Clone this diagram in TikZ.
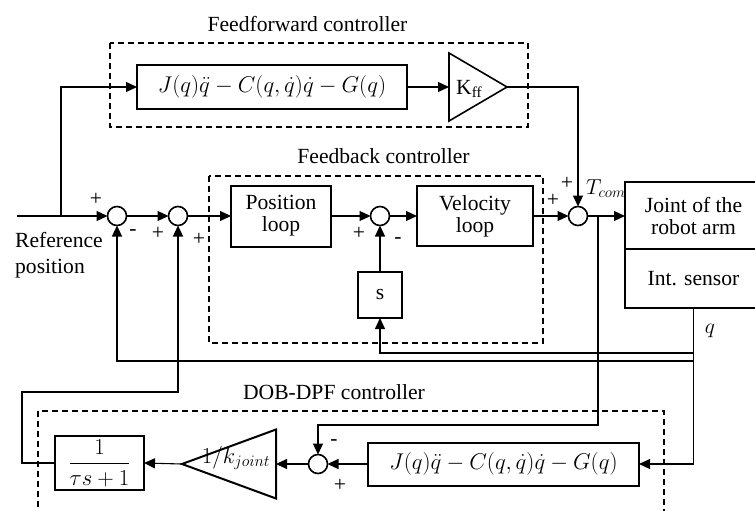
\RequirePackage{fix-cm}
\documentclass[tikz,border=0pt]{standalone}
\usepackage{amsmath}
\usepackage{fontspec}
\setmainfont{Liberation Serif}
\usetikzlibrary{shapes.geometric,arrows.meta}
\begin{document}
\begin{tikzpicture}[x=1pt,y=-1pt,
  font=\fontsize{21.6}{22}\selectfont,
  conn/.style={line width=1.1pt},
  arr/.style={conn,-{Triangle[length=11pt,width=10pt]}},
  blk/.style={draw,line width=2pt,inner sep=0pt,outer sep=0pt,align=center},
  mth/.style={font=\fontsize{22.8}{24}\selectfont},
  sumc/.style={draw,circle,line width=1.6pt,minimum size=19pt,inner sep=0pt,outer sep=0pt},
  grp/.style={draw,line width=1.3pt,dash pattern=on 6pt off 4pt},
  tri/.style={draw,isosceles triangle,isosceles triangle stretches,line width=1.6pt,inner sep=0pt,outer sep=0pt},
  sgn/.style={inner sep=0pt}
]
\useasboundingbox (0,0) rectangle (755,511);
\clip (0,0) rectangle (755,511);

% group frames
\draw[grp] (110,43) rectangle (528,127);
\draw[grp] (209,176) rectangle (543,343);
\draw[grp] (38,411) rectangle (664,530);

% labels
\node[anchor=base] (fflbl) at (307.5,31.5) {Feedforward controller};
\node[anchor=base] (fblbl) at (383.5,163) {Feedback controller};
\node[anchor=base] (doblbl) at (334,399) {DOB-DPF controller};
\node[anchor=base west,inner sep=0pt] (ref1) at (15,247) {Reference};
\node[anchor=base west,inner sep=0pt] (ref2) at (15,273) {position};

% summing junctions
\node[sumc] (s1) at (117,216) {};
\node[sumc] (s2) at (178,216) {};
\node[sumc] (s3) at (380,216) {};
\node[sumc] (st) at (578,216) {};
\node[sumc] (sd) at (318,464) {};

% blocks
\node[blk,mth,minimum width=270pt,minimum height=44pt] (ffj) at (272,87) {$J(q)\ddot{q}-C(q,\dot{q})\dot{q}-G(q)$};
\node[tri,minimum height=58pt,minimum width=68pt,anchor=west] (kff) at (449,87) {};
\node[anchor=base west,inner sep=0pt] (kfft) at (456,94) {K\textsubscript{ff}};
\node[blk,minimum width=100pt,minimum height=61pt] (pos) at (281,216) {Position\\loop};
\node[blk,minimum width=116pt,minimum height=60pt] (vel) at (475,216) {Velocity\\loop};
\node[blk,minimum width=44pt,minimum height=46pt] (sb) at (380,295) {s};
\node[blk,minimum width=137pt,minimum height=67pt] (joint) at (693.5,215.5) {Joint of the\\robot arm};
\node[blk,minimum width=137pt,minimum height=59pt,anchor=north] (sensor) at (joint.south) {Int. sensor};
\node[blk,mth,minimum width=271pt,minimum height=43pt] (dobj) at (503.5,464) {$J(q)\ddot{q}-C(q,\dot{q})\dot{q}-G(q)$};
\node[tri,line width=2pt,shape border rotate=180,minimum height=94pt,minimum width=69pt,anchor=east] (kj) at (276,464) {};
\node[mth,anchor=base,inner sep=0pt] (kjt) at (236,463) {$1/k_{joint}$};
\node[blk,mth,minimum width=89pt,minimum height=54pt] (filt) at (99.5,463) {$\displaystyle\frac{1}{\tau s+1}$};

% text labels
\node[anchor=base west,inner sep=0pt] (tcom) at (586,194) {$T_{com}$};
\node (qlbl) at (710,331) {$q$};

% signs
\node[sgn] (p1) at (96,199) {+};
\node[sgn] (m1) at (133,233) {-};
\node[sgn] (p2) at (158,233) {+};
\node[sgn] (p3) at (199,239) {+};
\node[sgn] (p4) at (359,233) {+};
\node[sgn] (m2) at (398,241) {-};
\node[sgn] (p5) at (553,200) {+};
\node[sgn] (p6) at (567,183) {+};
\node[sgn] (m3) at (334,443) {-};
\node[sgn] (p7) at (340,485) {+};

% coordinates
\coordinate (in) at (17,216);
\coordinate (br) at (61,216);
\coordinate (fs) at (693.5,353);
\coordinate (fq) at (693.5,361);
\coordinate (tb) at (598,216);
\coordinate (tb2) at (598,425);
\coordinate (c1) at (22,392);

% forward path
\draw[arr] (in) -- (s1.west);
\draw[arr] (br) |- (ffj.west);
\draw[arr] (s1.east) -- (s2.west);
\draw[arr] (s2.east) -- (pos.west);
\draw[arr] (pos.east) -- (s3.west);
\draw[arr] (s3.east) -- (vel.west);
\draw[arr] (vel.east) -- (st.west);
\draw[arr] (st.east) -- (joint.west |- st.east);
\draw[arr] (ffj.east) -- (kff.west);
\draw[arr] (kff.apex) -| (st.north);

% feedback paths
\draw[arr] (sensor.south) |- (dobj.east);
\draw[arr] (fs) -| (sb.south);
\draw[arr] (fq) -| (s1.south);
\draw[arr] (sb.north) -- (s3.south);
\draw[arr] (tb) -- (tb2) -| (sd.north);
\draw[arr] (dobj.west) -- (sd.east);
\draw[arr] (sd.west) -- (kj.east);
\draw[arr] (kj.apex) -- (filt.east);
\draw[arr] (filt.west) -| (c1) -| (s2.south);
\end{tikzpicture}
\end{document}
